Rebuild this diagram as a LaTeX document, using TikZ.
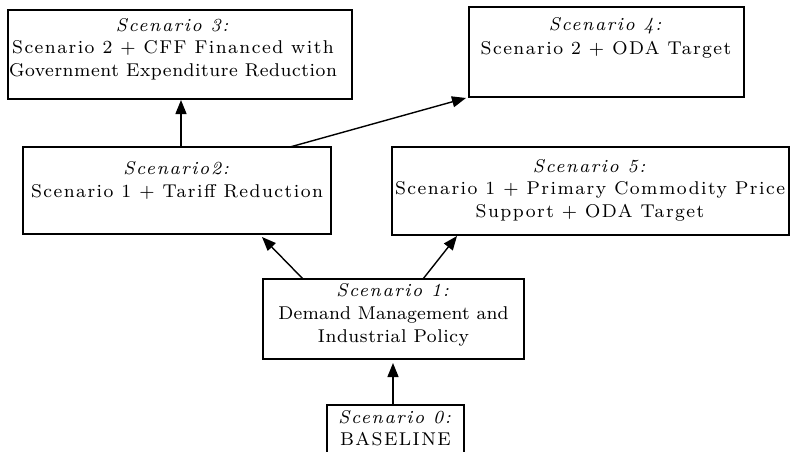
\documentclass[tikz,border=0pt]{standalone}
\usepackage{fontspec}
\setmainfont{lmroman8-regular.otf}[BoldFont=lmroman8-bold.otf, ItalicFont=lmroman8-italic.otf, LetterSpace=8, ItalicFeatures={LetterSpace=9}]
\usetikzlibrary{arrows.meta}
\tikzset{
  box/.style={draw, line width=1.3pt, inner sep=0pt, outer sep=0pt},
  txt/.style={anchor=north, inner sep=0pt, outer sep=0pt, align=center},
  arr/.style={line width=1.4pt, -{Triangle[length=14pt,width=11pt]}},
}
\begin{document}
\begin{tikzpicture}[x=1pt,y=1pt]
\useasboundingbox (0,0) rectangle (790,-452);
\clip (0,0) rectangle (790,-452);
% boxes
\node[box, minimum width=344pt, minimum height=89pt] (s3) at (180,-54.5) {};
\node[box, minimum width=275pt, minimum height=90pt] (s4) at (606.5,-52) {};
\node[box, minimum width=308pt, minimum height=87pt] (s2) at (177,-190.5) {};
\node[box, minimum width=397pt, minimum height=88pt] (s5) at (590.5,-191) {};
\node[box, minimum width=261pt, minimum height=80pt] (s1) at (393.5,-319) {};
\node[box, minimum width=137pt, minimum height=55pt] (s0) at (395.5,-432.5) {};
% texts
\node[txt, font=\fontsize{18.5}{22.5}\selectfont] (t3) at (173,-18) {\textit{Scenario 3:}\\Scenario 2 + CFF Financed with\\{\addfontfeatures{LetterSpace=3}Government Expenditure Reduction}};
\node[txt, font=\fontsize{18.5}{24}\selectfont] (t4) at (606,-17) {\textit{Scenario 4:}\\Scenario 2 + ODA Target};
\node[txt, font=\fontsize{18.5}{23}\selectfont] (t2) at (177,-161.5) {\textit{Scenario2:}\\Scenario 1 + Tariff Reduction};
\node[txt, font=\fontsize{18.5}{22.5}\selectfont] (t5) at (590,-159) {\textit{Scenario 5:}\\Scenario 1 + Primary Commodity Price\\Support + ODA Target};
\node[txt, font=\fontsize{18.5}{23}\selectfont] (t1) at (393.5,-283) {\textit{Scenario 1:}\\{\addfontfeatures{LetterSpace=1}Demand Management and}\\{\addfontfeatures{LetterSpace=3}Industrial Policy}};
\node[txt, font=\fontsize{18.5}{22}\selectfont] (t0) at (395.5,-410.5) {\textit{Scenario 0:}\\BASELINE};
% connectors
\draw[arr] ([xshift=-2.5pt]s0.north) -- ([xshift=-0.5pt,yshift=-4pt]s1.south);
\draw[arr] ([xshift=40pt]s1.north west) -- ([xshift=-69pt,yshift=-3pt]s2.south east);
\draw[arr] ([xshift=160pt]s1.north west) -- ([xshift=65pt,yshift=-1pt]s5.south west);
\draw[arr] ([xshift=158pt]s2.north west) -- ([xshift=173pt,yshift=-1pt]s3.south west);
\draw[arr] ([xshift=267pt]s2.north west) -- ([xshift=-3pt,yshift=-1pt]s4.south west);
\end{tikzpicture}
\end{document}
